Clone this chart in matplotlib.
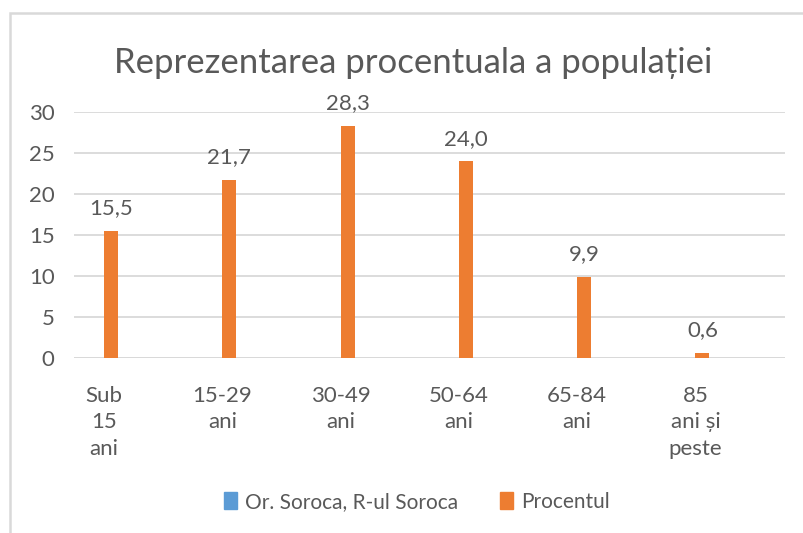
import matplotlib.pyplot as plt
from matplotlib.patches import Patch, Rectangle
import numpy as np

# chart data
categories = ["Sub\n15\nani", "15-29\nani", "30-49\nani", "50-64\nani", "65-84\nani", "85\nani și\npeste"]
soroca = [0, 0, 0, 0, 0, 0]          # empty series, only shown in legend
procentul = [15.5, 21.7, 28.3, 24.0, 9.9, 0.6]
series_names = ["Or. Soroca, R-ul Soroca", "Procentul"]
title = "Reprezentarea procentuala a populației"

BLUE = "#5B9BD5"
ORANGE = "#ED7D31"
TEXT = "#595959"
GRID = "#D9D9D9"

plt.rcParams['font.family'] = ['Lato', 'DejaVu Sans']

fig = plt.figure(figsize=(8.04, 5.33), dpi=100)
ax = fig.add_axes([74 / 804, 1 - 358 / 533, 711 / 804, 246 / 533])

x = np.arange(len(categories))
w = 0.118
ax.bar(x - w / 2, soroca, w, color=BLUE, zorder=3)
bars = ax.bar(x + w / 2, procentul, w, color=ORANGE, zorder=3)

# data labels with comma decimal
for b, v in zip(bars, procentul):
    ax.annotate(f"{v:.1f}".replace(".", ","), (b.get_x() + b.get_width() / 2, v),
                xytext=(0, 9), textcoords="offset points", ha="center", va="bottom",
                fontsize=16, color=TEXT)

ax.set_xlim(-0.254, 5.757)
ax.set_ylim(0, 30)
ax.set_yticks(range(0, 31, 5))
ax.yaxis.grid(True, color=GRID, linewidth=1.3, zorder=0)
ax.set_xticks(x)
ax.set_xticklabels(categories)
for lbl in ax.get_xticklabels():
    lbl.set_linespacing(1.4)
    lbl.set_va("top")
ax.tick_params(axis="both", length=0, labelsize=16, labelcolor=TEXT)
ax.tick_params(axis="y", pad=14)
ax.tick_params(axis="x", pad=20)
for s in ax.spines.values():
    s.set_visible(False)
ax.axhline(0, color=GRID, linewidth=1.3, zorder=2)

fig.text(413 / 804, 1 - 63 / 533, title, ha="center", va="center", fontsize=25, color=TEXT)

handles = [Patch(color=BLUE), Patch(color=ORANGE)]
fig.legend(handles, series_names, loc="center", bbox_to_anchor=(417 / 804, 1 - 502 / 533),
           ncol=2, frameon=False, fontsize=15, labelcolor=TEXT,
           handlelength=0.6, handleheight=0.9, handletextpad=0.4, columnspacing=2.0)

# chart frame (left and top edges visible)
fig.patches.append(Rectangle((10 / 804, -0.05), 1.0, 1 - 13 / 533 + 0.05,
                             transform=fig.transFigure, fill=False,
                             edgecolor=GRID, linewidth=1.8))

fig.savefig("out.png", dpi=100)
